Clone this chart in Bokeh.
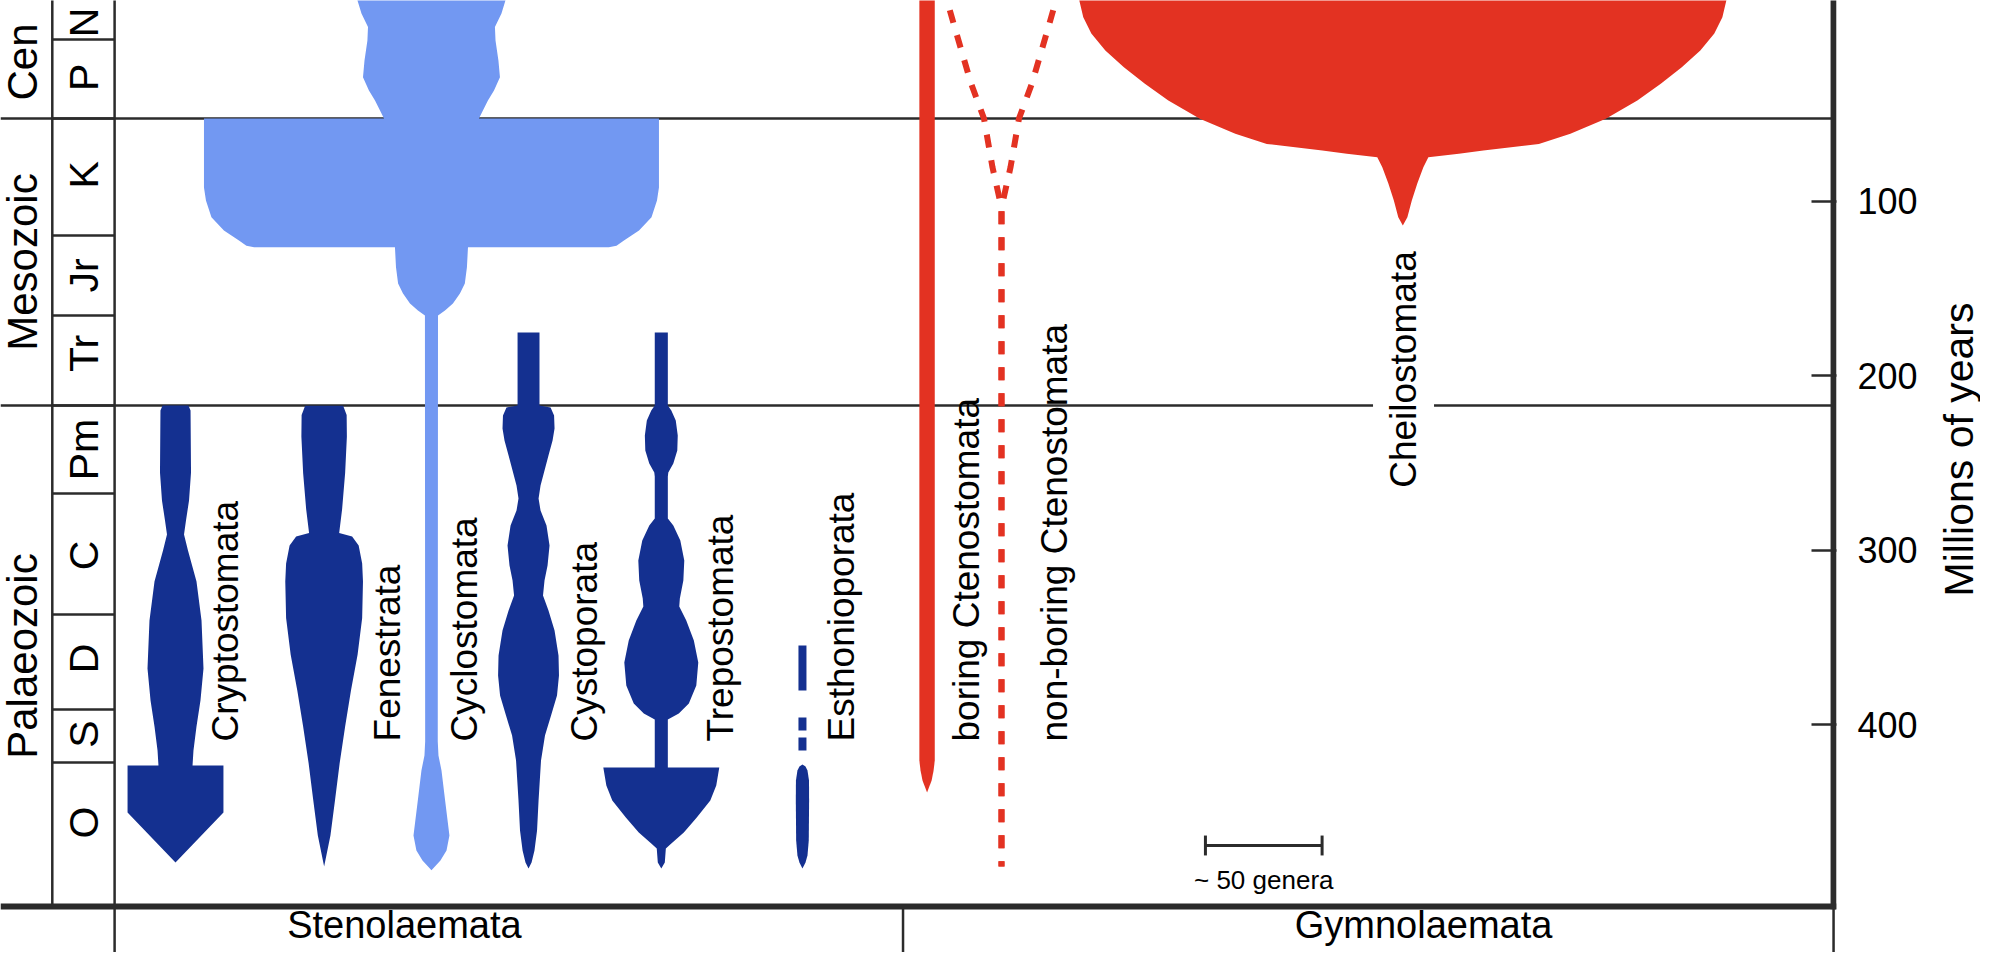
import math
from bokeh.plotting import figure
from bokeh.models import Range1d, FixedTicker, Label
from bokeh.layouts import row
from bokeh.embed import file_html
from bokeh.resources import INLINE
from bokeh.core.properties import value

# ---------------------------------------------------------------- data
# time axis in millions of years (as drawn on the figure), widths in genera

era_names = ["Cen", "Mesozoic", "Palaeozoic"]
era_top = [-12.1, 52.7, 217.1]
era_base = [52.7, 217.1, 504.2]

period_names = ["N", "P", "K", "Jr", "Tr", "Pm", "C", "D", "S", "O"]
period_base = [7.4, 52.7, 119.7, 165.5, 217.1, 267.5, 336.9, 391.3, 421.6, 504.2]
period_label_age = [-2.4, 29.0, 85.0, 142.6, 187.3, 242.3, 303.0, 362.0, 405.3, 456.0]

tick_values = [100, 200, 300, 400]

crypto_age = [217.1, 220.0, 255.5, 271.5, 283.0, 291.0, 300.2, 318.0, 340.3, 367.8,
              386.1, 401.0, 414.8, 423.4, 423.4, 450.3, 479.0]
crypto_gen = [11.1, 12.9, 13.3, 11.6, 9.0, 7.3, 10.7, 18.0, 22.3, 24.0,
              21.4, 18.0, 15.4, 14.6, 41.1, 41.1, 0.0]

fen_age = [217.3, 222.5, 234.9, 255.8, 276.6, 290.1, 292.2, 297.3, 307.6, 318.0,
           338.9, 359.8, 380.4, 401.0, 422.1, 442.9, 463.5, 481.2]
fen_gen = [16.3, 19.3, 19.5, 18.0, 15.4, 12.9, 24.0, 29.6, 32.6, 33.3,
           32.6, 28.7, 23.0, 18.0, 13.3, 9.4, 5.4, 0.0]

cyclo_age = [-23.5, -15.0, -7.5, 0.3, 8.0, 19.4, 29.0, 36.6, 42.3, 48.1, 52.7,
             52.7, 92.2, 99.6, 109.2, 116.8, 122.6, 125.5, 126.4,
             126.4, 137.9, 147.2, 152.9, 158.6, 162.7, 165.5,
             409.6, 417.6, 426.2, 442.9, 463.5, 472.1, 477.8, 483.4]
cyclo_gen = [64.3, 63.4, 60.0, 54.4, 54.9, 57.4, 58.7, 53.6, 48.4, 44.1, 40.7,
             195.0, 195.0, 193.3, 188.6, 177.9, 165.0, 158.6, 152.0,
             31.3, 30.4, 28.6, 24.4, 18.4, 11.6, 5.6,
             5.4, 6.0, 8.6, 11.6, 15.4, 12.9, 7.7, 0.0]

cysto_age = [175.3, 217.1, 218.2, 222.8, 230.3, 237.2, 245.7, 254.3, 262.9, 270.4,
             277.3, 285.9, 297.3, 308.8, 317.4, 326.0, 334.6, 346.0, 360.3, 371.8,
             383.3, 394.7, 406.2, 420.5, 443.4, 460.6, 472.1, 479.0, 482.4]
cysto_gen = [9.4, 9.4, 18.9, 21.9, 22.3, 20.6, 17.1, 13.7, 10.3, 8.6,
             10.3, 15.4, 18.0, 16.3, 13.7, 12.4, 17.1, 22.3, 25.7, 26.1,
             24.4, 19.3, 14.1, 10.7, 8.6, 7.3, 5.1, 2.6, 0.0]

trepo_age = [175.3, 217.1, 220.0, 225.7, 234.3, 242.9, 250.4, 255.5, 257.8, 281.8,
             285.9, 294.4, 305.9, 317.4, 327.7, 332.2, 340.3, 351.7, 364.4, 377.5,
             387.9, 393.6, 397.0, 424.5, 424.5, 434.8, 443.4, 453.2, 461.8, 468.1,
             470.9, 479.0, 482.4]
trepo_gen = [5.6, 5.6, 8.6, 12.4, 14.1, 13.7, 10.3, 6.0, 5.6, 5.6,
             10.3, 16.3, 19.7, 18.9, 15.9, 15.4, 21.4, 27.9, 31.7, 30.0,
             23.6, 15.0, 5.6, 5.6, 49.7, 47.1, 42.0, 30.4, 19.3, 8.6,
             3.9, 3.0, 0.0]

esth_dash_age = [354.6, 414.8]
esth_age = [422.8, 423.9, 426.2, 432.0, 443.4, 466.4, 475.0, 479.0, 482.4]
esth_gen = [0.0, 2.6, 4.3, 5.6, 5.7, 5.4, 4.3, 2.6, 0.0]

boring_age = [-23.5, 420.5, 426.2, 432.0, 438.9]
boring_gen = [6.6, 6.6, 5.6, 3.9, 0.0]

nonboring_age = [-23.5, -15.0, 4.0, 32.6, 52.7, 80.7, 103.7, 481.2]
nonboring_gen = [51.4, 46.7, 38.6, 26.1, 15.0, 7.7, 0.0, 0.0]

cheilo_age = [-23.5, -15.0, -5.4, 4.0, 13.7, 23.3, 32.8, 42.3, 52.8, 61.4, 67.2,
              71.0, 72.9, 74.8, 80.6, 89.9, 99.6, 109.2, 114.0]
cheilo_gen = [278.6, 277.3, 273.9, 267.0, 255.0, 239.1, 221.1, 201.0, 174.0, 143.6, 116.6,
              69.0, 48.0, 21.9, 17.6, 12.4, 7.7, 3.9, 0.0]

clade_names = ["Cryptostomata", "Fenestrata", "Cyclostomata", "Cystoporata",
               "Trepostomata", "Esthonioporata", "boring Ctenostomata",
               "non-boring Ctenostomata"]
group_names = ["Stenolaemata", "Gymnolaemata"]
scale_genera = 50

# ---------------------------------------------------------------- layout
FONT = "Liberation Sans"
DARK = "#143090"
LIGHT = "#7298f2"
RED = "#e33222"
INK = "#2b2b2b"

W_MAIN, W_LABEL, H = 1936, 44, 952
RIGHT_BORDER = 100
X_START, X_END = 0.0, 786.86          # genera units
Y_TOP, Y_BOTTOM = -14.95, 530.51      # Ma (axis inverted)
AXIS_X = 785.6
COL_ERA_X, COL_PER_X = 22.2, 48.9
ERA_LABEL_X, PER_LABEL_X = 9.6, 35.8
LOW_DIV_X = 386.8
CENTRE = {"crypto": 75.0, "fen": 138.7, "cyclo": 184.7, "cysto": 226.3,
          "trepo": 283.2, "esth": 343.7, "boring": 397.1, "nonboring": 429.0,
          "cheilo": 601.0}
label_x = [96.6, 165.9, 198.9, 250.3, 308.6, 360.6, 413.8, 451.7]
LABEL_BASE = 409.6
group_x = [173.1, 609.9]
GROUP_Y = 515.0
AXIS_LABEL_Y = 242.3

p = figure(width=W_MAIN, height=H, output_backend="svg", toolbar_location=None,
           x_range=Range1d(X_START, X_END), y_range=Range1d(Y_BOTTOM, Y_TOP),
           x_axis_location=None, y_axis_location="right",
           min_border_left=0, min_border_top=0, min_border_bottom=0,
           min_border_right=RIGHT_BORDER)
p.outline_line_color = None
p.grid.visible = False
p.background_fill_color = "white"
p.border_fill_color = "white"

ax = p.yaxis[0]
ax.ticker = FixedTicker(ticks=tick_values)
ax.major_tick_in = 25
ax.major_tick_out = 0
ax.minor_tick_in = 0
ax.minor_tick_out = 0
ax.major_tick_line_width = 2.5
ax.major_tick_line_color = INK
ax.axis_line_color = None
ax.major_label_standoff = 21
ax.major_label_text_font = FONT
ax.major_label_text_font_size = "36px"
ax.major_label_text_color = "black"

# ---- framework lines
era_lines = era_base[:-1]
p.segment(x0=[0] * len(era_lines), x1=[AXIS_X] * len(era_lines), y0=era_lines, y1=era_lines,
          line_color=INK, line_width=2.5)
per_lines = period_base[:-1]
p.segment(x0=[COL_ERA_X] * len(per_lines), x1=[COL_PER_X] * len(per_lines),
          y0=per_lines, y1=per_lines, line_color=INK, line_width=2.5)
p.segment(x0=[COL_ERA_X, COL_PER_X], x1=[COL_ERA_X, COL_PER_X],
          y0=[-30, -30], y1=[era_base[-1], Y_BOTTOM + 5], line_color=INK, line_width=2.5)
p.segment(x0=[LOW_DIV_X, AXIS_X], x1=[LOW_DIV_X, AXIS_X],
          y0=[era_base[-1]] * 2, y1=[Y_BOTTOM + 5] * 2, line_color=INK, line_width=2.5)


def spindle(cx, ages, gens, color):
    xs = [cx - g / 2 for g in gens] + [cx + g / 2 for g in gens[::-1]]
    ys = list(ages) + list(ages[::-1])
    p.patch(xs, ys, fill_color=color, line_color=None)


spindle(CENTRE["crypto"], crypto_age, crypto_gen, DARK)
spindle(CENTRE["fen"], fen_age, fen_gen, DARK)
spindle(CENTRE["cyclo"], cyclo_age, cyclo_gen, LIGHT)
spindle(CENTRE["cysto"], cysto_age, cysto_gen, DARK)
spindle(CENTRE["trepo"], trepo_age, trepo_gen, DARK)
spindle(CENTRE["esth"], esth_age, esth_gen, DARK)
p.line([CENTRE["esth"]] * 2, esth_dash_age, line_color=DARK, line_width=8,
       line_dash="45 27 13 7 13 16")
spindle(CENTRE["boring"], boring_age, boring_gen, RED)
spindle(CENTRE["cheilo"], cheilo_age, cheilo_gen, RED)
cx = CENTRE["nonboring"]
p.line([cx - g / 2 for g in nonboring_gen], nonboring_age, line_color=RED, line_width=6,
       line_dash="13 13")
p.line([cx + g / 2 for g in nonboring_gen], nonboring_age, line_color=RED, line_width=6,
       line_dash="13 13")

# ---- thick frame lines (bottom + time axis)
p.segment(x0=[0], x1=[X_END], y0=[era_base[-1]], y1=[era_base[-1]], line_color=INK, line_width=6)
p.segment(x0=[AXIS_X], x1=[AXIS_X], y0=[-30], y1=[era_base[-1] + 1.5], line_color=INK, line_width=6)

# ---- scale bar
SB_X, SB_Y = 516.4, 469.2
p.segment(x0=[SB_X], x1=[SB_X + scale_genera], y0=[SB_Y], y1=[SB_Y], line_color=INK, line_width=3)
p.segment(x0=[SB_X, SB_X + scale_genera], x1=[SB_X, SB_X + scale_genera],
          y0=[SB_Y - 5.7] * 2, y1=[SB_Y + 5.7] * 2, line_color=INK, line_width=3)
p.text(x=[SB_X + scale_genera / 2], y=[489.2], text=["~ 50 genera"], text_font=value(FONT),
       text_font_size="26px", text_align="center", text_baseline="middle", text_color="black")

# ---- texts
p.text(x=[ERA_LABEL_X] * 3, y=[(a + b) / 2 for a, b in zip(era_top, era_base)], text=era_names,
       angle=math.pi / 2, text_font=value(FONT), text_font_size="42px",
       text_align="center", text_baseline="middle", text_color="black")
p.text(x=[PER_LABEL_X] * len(period_names), y=period_label_age, text=period_names,
       angle=math.pi / 2, text_font=value(FONT), text_font_size="41px",
       text_align="center", text_baseline="middle", text_color="black")
p.text(x=label_x, y=[LABEL_BASE] * len(clade_names), text=clade_names,
       angle=math.pi / 2, text_font=value(FONT), text_font_size="37px",
       text_align="left", text_baseline="middle", text_color="black")
p.text(x=group_x, y=[GROUP_Y] * 2, text=group_names, text_font=value(FONT),
       text_font_size="38px", text_align="center", text_baseline="middle", text_color="black")
p.add_layout(Label(x=601.3, y=196.5, text="Cheilostomata", angle=90, angle_units="deg",
                   text_font=FONT, text_font_size="37px", text_align="center",
                   text_baseline="middle", text_color="black",
                   background_fill_color="white", padding=10))

# ---------------------------------------------------------------- axis title strip
r = figure(width=W_LABEL, height=H, output_backend="svg", toolbar_location=None,
           x_range=Range1d(0, 1), y_range=Range1d(Y_BOTTOM, Y_TOP),
           x_axis_location=None, y_axis_location=None,
           min_border_left=0, min_border_top=0, min_border_bottom=0, min_border_right=0)
r.outline_line_color = None
r.grid.visible = False
r.text(x=[0.5], y=[AXIS_LABEL_Y], text=["Millions of years"], angle=math.pi / 2,
       text_font=value(FONT), text_font_size="41px", text_align="center",
       text_baseline="middle", text_color="black")

layout = row(p, r, spacing=0)
open("out.html", "w").write(file_html(layout, INLINE))
